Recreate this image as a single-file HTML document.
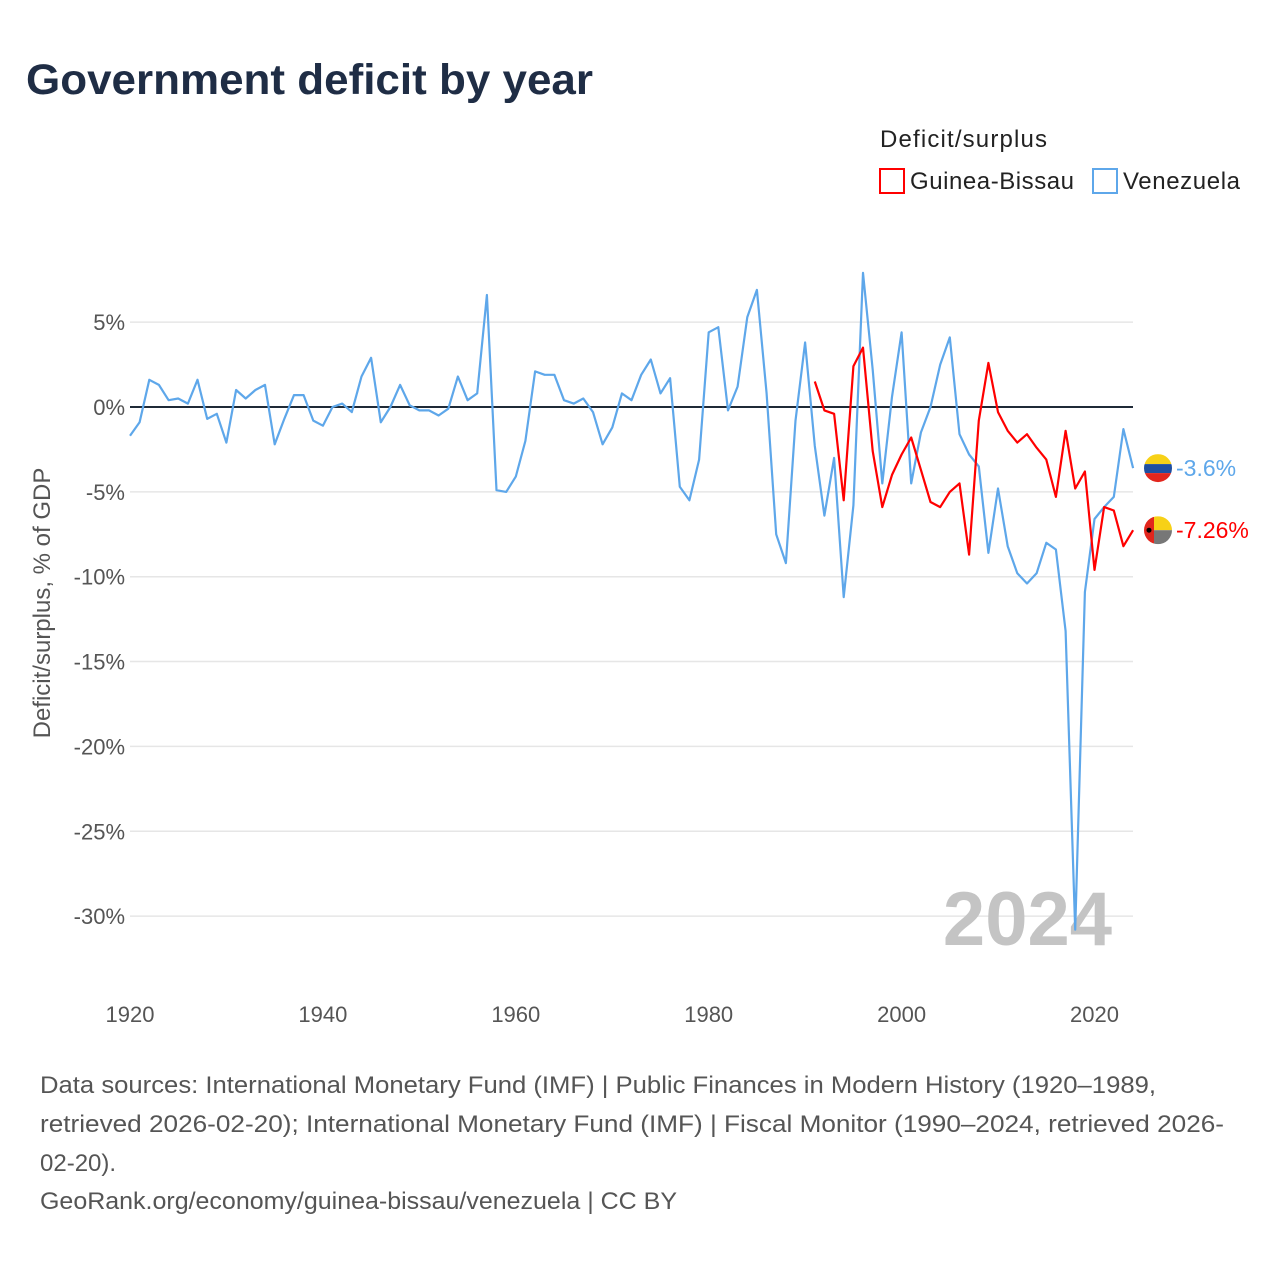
<!DOCTYPE html>
<html><head><meta charset="utf-8"><style>
body{margin:0;background:#fff;}
svg{display:block;font-family:"Liberation Sans",sans-serif;}
</style></head><body>
<svg width="1280" height="1280" viewBox="0 0 1280 1280">
<text x="26" y="94" font-size="43" font-weight="bold" fill="#1f2d45" textLength="567" lengthAdjust="spacingAndGlyphs">Government deficit by year</text>
<g>
<text x="880" y="147" font-size="24" fill="#222" textLength="167">Deficit/surplus</text>
<g><rect x="880" y="169" width="24" height="24" fill="none" stroke="#ff0000" stroke-width="2"/><text x="910" y="189" font-size="24" fill="#222" textLength="164">Guinea-Bissau</text></g>
<g><rect x="1093" y="169" width="24" height="24" fill="none" stroke="#5ea7ea" stroke-width="2"/><text x="1123" y="189" font-size="24" fill="#222" textLength="117">Venezuela</text></g>
</g>
<g id="grid"></g>
<g id="yticks"></g>
<g id="xticks"></g>
<text transform="translate(50,603) rotate(-90)" text-anchor="middle" font-size="24" fill="#555">Deficit/surplus, % of GDP</text>
<text x="1112" y="945" text-anchor="end" font-size="76" font-weight="bold" fill="#c4c4c4">2024</text>
<g id="series"></g>
<g font-size="24" fill="#555">
<text x="40" y="1093" textLength="1116" lengthAdjust="spacingAndGlyphs">Data sources: International Monetary Fund (IMF) | Public Finances in Modern History (1920–1989,</text>
<text x="40" y="1132" textLength="1184" lengthAdjust="spacingAndGlyphs">retrieved 2026-02-20); International Monetary Fund (IMF) | Fiscal Monitor (1990–2024, retrieved 2026-</text>
<text x="40" y="1171">02-20).</text>
<text x="40" y="1209" textLength="637" lengthAdjust="spacingAndGlyphs">GeoRank.org/economy/guinea-bissau/venezuela | CC BY</text>
</g>
</svg>
<script>
const yTicks=[5,0,-5,-10,-15,-20,-25,-30];
const xTicks=[1920,1940,1960,1980,2000,2020];
const venStart=1920;
const venValues=[-1.7,-0.9,1.6,1.3,0.4,0.5,0.2,1.6,-0.7,-0.4,-2.1,1.0,0.5,1.0,1.3,-2.2,-0.7,0.7,0.7,-0.8,-1.1,0.0,0.2,-0.3,1.8,2.9,-0.9,0.0,1.3,0.1,-0.2,-0.2,-0.5,-0.1,1.8,0.4,0.8,6.6,-4.9,-5.0,-4.1,-2.0,2.1,1.9,1.9,0.4,0.2,0.5,-0.3,-2.2,-1.2,0.8,0.4,1.9,2.8,0.8,1.7,-4.7,-5.5,-3.1,4.4,4.7,-0.2,1.2,5.3,6.9,0.8,-7.5,-9.2,-0.8,3.8,-2.3,-6.4,-3.0,-11.2,-5.8,7.9,2.2,-4.5,0.6,4.4,-4.5,-1.5,0.0,2.5,4.1,-1.6,-2.8,-3.5,-8.6,-4.8,-8.2,-9.8,-10.4,-9.8,-8.0,-8.4,-13.2,-30.8,-10.9,-6.6,-5.9,-5.3,-1.3,-3.6];
const gnbStart=1991;
const gnbValues=[1.5,-0.2,-0.4,-5.5,2.4,3.5,-2.6,-5.9,-4.0,-2.8,-1.8,-3.7,-5.6,-5.9,-5.0,-4.5,-8.7,-0.8,2.6,-0.3,-1.4,-2.1,-1.6,-2.4,-3.1,-5.3,-1.4,-4.8,-3.8,-9.6,-5.9,-6.1,-8.2,-7.26];
const NS="http://www.w3.org/2000/svg";
function xs(yr){return 130+(yr-1920)*9.645;}
function ys(v){return 407-v*16.97;}
function mk(tag,attrs,parent){const e=document.createElementNS(NS,tag);for(const k in attrs)e.setAttribute(k,attrs[k]);parent.appendChild(e);return e;}
const grid=document.getElementById('grid'),yt=document.getElementById('yticks'),xt=document.getElementById('xticks'),ser=document.getElementById('series');
yTicks.forEach(v=>{
 const l=mk('line',{x1:130,x2:1133,y1:ys(v),y2:ys(v),stroke:'#e6e6e6','stroke-width':1.5},grid);
 
 
 const t=mk('text',{x:125,y:ys(v)+8,'text-anchor':'end','font-size':22,fill:'#555'},yt);
 t.textContent=v+'%';
 
 
});
xTicks.forEach(yr=>{
 const t=mk('text',{x:xs(yr),y:1022,'text-anchor':'middle','font-size':22,fill:'#555'},xt);
 t.textContent=yr;
 
 
});
const z=mk('line',{x1:130,x2:1133,y1:ys(0),y2:ys(0),stroke:'#1f2a37','stroke-width':2},ser);


function line(start,vals,color,name){
 const pts=vals.map((v,i)=>xs(start+i).toFixed(1)+','+ys(v).toFixed(1)).join(' ');
 const p=mk('polyline',{points:pts,fill:'none',stroke:color,'stroke-width':2.2,'stroke-linejoin':'round'},ser);
 
 
}
line(venStart,venValues,'#5ea7ea','venezuela-line');
line(gnbStart,gnbValues,'#ff0000','guinea-bissau-line');
function endLabel(vals,color,name,flag){
 const v=vals[vals.length-1],y=ys(v),cx=1158;
 const g=mk('g',{},ser);
 
 
 if(flag==='ven'){
  mk('clipPath',{id:'cv'},g);mk('circle',{cx:cx,cy:y,r:14},g.lastChild);
  const gg=mk('g',{'clip-path':'url(#cv)'},g);
  mk('rect',{x:cx-14,y:y-14,width:28,height:10,fill:'#f7d117'},gg);
  mk('rect',{x:cx-14,y:y-4,width:28,height:9,fill:'#1f4fa0'},gg);
  mk('rect',{x:cx-14,y:y+5,width:28,height:10,fill:'#e2261d'},gg);
 }else{
  mk('clipPath',{id:'cg'},g);mk('circle',{cx:cx,cy:y,r:14},g.lastChild);
  const gg=mk('g',{'clip-path':'url(#cg)'},g);
  mk('rect',{x:cx-14,y:y-14,width:10,height:28,fill:'#e2261d'},gg);
  mk('rect',{x:cx-4,y:y-14,width:18,height:14,fill:'#f7d117'},gg);
  mk('rect',{x:cx-4,y:y,width:18,height:14,fill:'#777'},gg);
  mk('circle',{cx:cx-9,cy:y,r:2.5,fill:'#000'},gg);
 }
 const t=mk('text',{x:1176,y:y+8,'font-size':23,fill:color},g);
 t.textContent=v+'%';
}
endLabel(venValues,'#5ea7ea','venezuela-end-label','ven');
endLabel(gnbValues,'#ff0000','guinea-bissau-end-label','gnb');
</script>
</body></html>
